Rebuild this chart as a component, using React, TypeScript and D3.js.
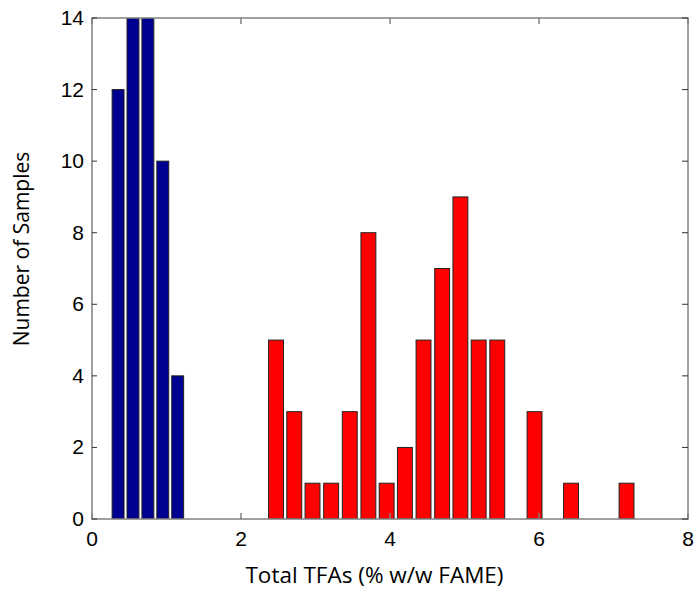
import React from "react";
import * as d3 from "d3";

const blueCenters = [0.35, 0.55, 0.75, 0.95, 1.15];
const blueCounts = [12, 14, 14, 10, 4];
const redCenters = [2.47, 2.715, 2.96, 3.21, 3.46, 3.71, 3.955, 4.2, 4.45, 4.7, 4.945, 5.19, 5.44, 5.94, 6.43, 7.175];
const redCounts = [5, 3, 1, 1, 3, 8, 1, 2, 5, 7, 9, 5, 5, 3, 1, 1];
const xTicks = [0, 2, 4, 6, 8];
const yTicks = [0, 2, 4, 6, 8, 10, 12, 14];
const xLabel = "Total TFAs (% w/w FAME)";
const yLabel = "Number of Samples";

const W = 698, H = 592;
const L = 92, R = 688, T = 18, B = 519;

export default function App() {
  const x = d3.scaleLinear().domain([0, 8]).range([L, R]);
  const y = d3.scaleLinear().domain([0, 14]).range([B, T]);
  const blueW = x(0.16) - x(0);
  const redW = x(0.2) - x(0);
  const tickFont = "'Liberation Sans', Arial, sans-serif";
  const labelFont = "'Open Sans', 'Noto Sans', sans-serif";
  return (
    <svg width={W} height={H} style={{ position: "absolute", left: 0, top: 0, background: "#fff" }}>
      <defs>
        <clipPath id="plot">
          <rect x={L} y={T} width={R - L} height={B - T} />
        </clipPath>
      </defs>
      <g clipPath="url(#plot)">
        {blueCenters.map((c, i) => (
          <rect key={"b" + i} x={x(c) - blueW / 2} y={y(blueCounts[i])} width={blueW} height={y(0) - y(blueCounts[i])}
            fill="#000090" stroke="#222" strokeWidth={1} />
        ))}
        {redCenters.map((c, i) => (
          <rect key={"r" + i} x={x(c) - redW / 2} y={y(redCounts[i])} width={redW} height={y(0) - y(redCounts[i])}
            fill="#ff0000" stroke="#222" strokeWidth={1} />
        ))}
      </g>
      <rect x={L} y={T} width={R - L} height={B - T} fill="none" stroke="#808080" strokeWidth={1.5} />
      {xTicks.map((t) => (
        <g key={"xt" + t}>
          <line x1={x(t)} x2={x(t)} y1={B} y2={B - 6} stroke="#808080" strokeWidth={1.5} />
          <line x1={x(t)} x2={x(t)} y1={T} y2={T + 6} stroke="#808080" strokeWidth={1.5} />
          <text x={x(t)} y={B + 27} textAnchor="middle" fontFamily={tickFont} fontSize={21} fill="#000">{t}</text>
        </g>
      ))}
      {yTicks.map((t) => (
        <g key={"yt" + t}>
          <line x1={L} x2={L + 5} y1={y(t)} y2={y(t)} stroke="#333" strokeWidth={1} />
          <line x1={R} x2={R - 6} y1={y(t)} y2={y(t)} stroke="#333" strokeWidth={1} />
          <text x={L - 8} y={y(t) + 7} textAnchor="end" fontFamily={tickFont} fontSize={21} fill="#000">{t}</text>
        </g>
      ))}
      <text x={374.5} y={583} textAnchor="middle" fontFamily={labelFont} fontSize={22.5} fill="#000">{xLabel}</text>
      <text transform={`translate(29, 249) rotate(-90)`} textAnchor="middle" fontFamily={labelFont} fontSize={21} fill="#000">{yLabel}</text>
    </svg>
  );
}
